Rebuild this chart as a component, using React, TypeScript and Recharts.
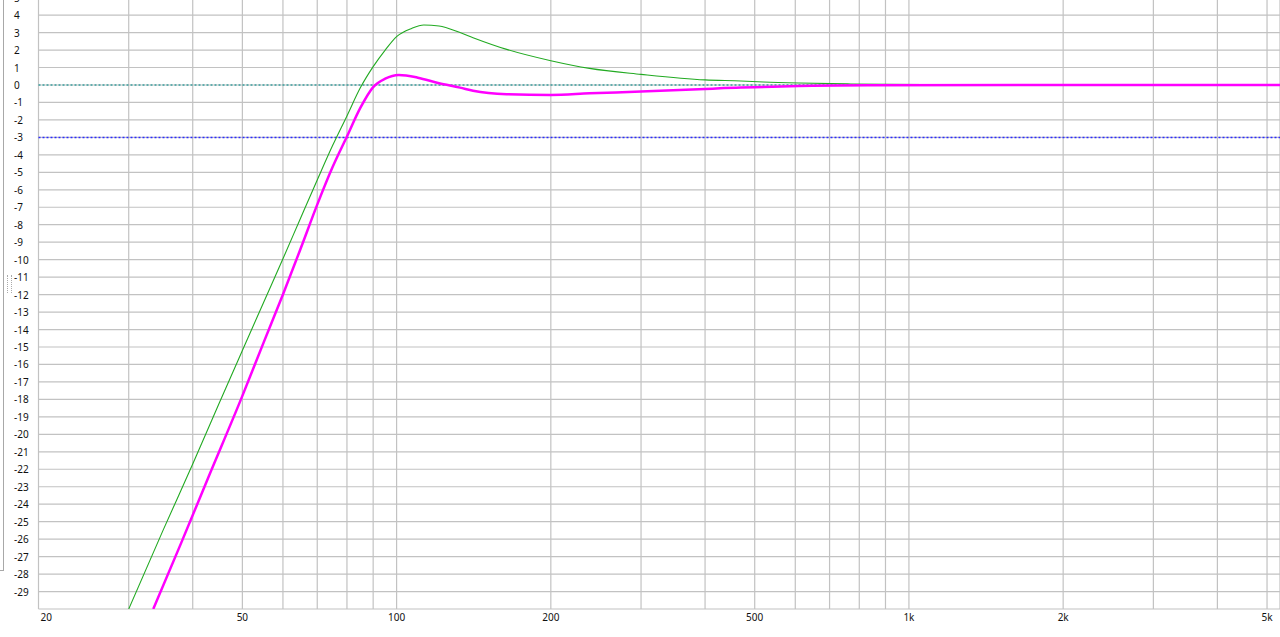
import { LineChart, Line, XAxis, YAxis, CartesianGrid, ReferenceLine } from "recharts";

// green trace (unsmoothed response)
const greenFreq = [30, 35, 40, 45, 50, 55, 60, 65, 70, 75, 80, 85, 90, 95, 100, 107, 113, 121, 133, 141, 164, 200, 238, 300, 400, 470, 520, 610, 770, 1200, 1650, 5300];
const greenDb = [-30, -25.5, -21.7, -18.25, -15.2, -12.45, -9.95, -7.6, -5.44, -3.47, -1.77, -0.15, 1.05, 2.0, 2.77, 3.24, 3.43, 3.38, 3.0, 2.71, 2.04, 1.39, 0.95, 0.61, 0.29, 0.23, 0.17, 0.11, 0.06, 0.02, 0, 0];

// magenta trace (corrected response)
const magentaFreq = [33.5, 38, 43, 50, 55, 60, 65, 70, 75, 80, 85, 90, 95, 101, 110, 121, 133, 141, 164, 200, 238, 300, 400, 470, 500, 610, 830, 1650, 5300];
const magentaDb = [-30, -26.2, -22.4, -17.8, -14.75, -12.0, -9.35, -6.85, -4.7, -2.95, -1.3, -0.12, 0.36, 0.57, 0.42, 0.1, -0.15, -0.33, -0.53, -0.57, -0.48, -0.38, -0.23, -0.15, -0.13, -0.06, -0.02, 0, 0];

// grid lines and labels
const freqTicks = [20, 30, 40, 50, 60, 70, 80, 90, 100, 200, 300, 400, 500, 600, 700, 800, 900, 1000, 2000, 3000, 4000, 5000];
const freqLabels: Record<number, string> = { 20: "20", 50: "50", 100: "100", 200: "200", 500: "500", 1000: "1k", 2000: "2k", 5000: "5k" };
const dbTicks = Array.from({ length: 36 }, (_, i) => -30 + i);

const green = greenFreq.map((f, i) => ({ f, db: greenDb[i] }));
const magenta = magentaFreq.map((f, i) => ({ f, db: magentaDb[i] }));

const font = "'Noto Sans', sans-serif";

const XTick = (props: any) => {
  const { x, y, payload } = props;
  const label = freqLabels[payload.value];
  if (!label) return null;
  const first = payload.value === 20;
  return (
    <text x={first ? x + 2 : x} y={y} textAnchor={first ? "start" : "middle"} dominantBaseline="central" fontSize={10} fontFamily={font} fill="#111">
      {label}
    </text>
  );
};

const YTick = (props: any) => {
  const { y, payload } = props;
  if (payload.value === -30) return null;
  return (
    <text x={14} y={y} textAnchor="start" dominantBaseline="central" fontSize={10} fontFamily={font} fill="#111">
      {payload.value}
    </text>
  );
};

export default function App() {
  return (
    <div style={{ position: "absolute", left: 0, top: -10, width: 1280, height: 645 }}>
      <LineChart width={1280} height={645} margin={{ top: 7.65, right: 0, left: 0, bottom: 0 }}>
        <CartesianGrid stroke="#c2c2c2" strokeWidth={1.2} />
        <XAxis
          type="number"
          dataKey="f"
          scale="log"
          domain={[20, 5300]}
          ticks={freqTicks}
          allowDataOverflow
          height={26}
          tickLine={false}
          axisLine={false}
          tick={XTick}
          interval={0}
        />
        <YAxis
          type="number"
          domain={[-30, 5]}
          ticks={dbTicks}
          allowDataOverflow
          width={38.5}
          tickLine={false}
          axisLine={false}
          tick={YTick}
          interval={0}
        />
        <ReferenceLine y={0} stroke="#3a9d9d" strokeWidth={1.5} strokeDasharray="2 2" />
        <ReferenceLine y={-3} stroke="#2b2bff" strokeWidth={1.5} strokeDasharray="2 2" />
        <Line data={green} dataKey="db" type="monotone" stroke="#22aa22" strokeWidth={1.1} dot={false} isAnimationActive={false} />
        <Line data={magenta} dataKey="db" type="monotone" stroke="#ff00ff" strokeWidth={2.5} dot={false} isAnimationActive={false} />
      </LineChart>
      <div style={{ position: "absolute", left: 3, top: 10, width: 1, height: 570, background: "#a8a8a8" }} />
      <div style={{ position: "absolute", left: 0, top: 580, width: 4, height: 1, background: "#a8a8a8" }} />
      <div style={{ position: "absolute", left: 7, top: 285, width: 3, height: 18, borderLeft: "1px dotted #aaa", borderRight: "1px dotted #aaa" }} />
    </div>
  );
}
